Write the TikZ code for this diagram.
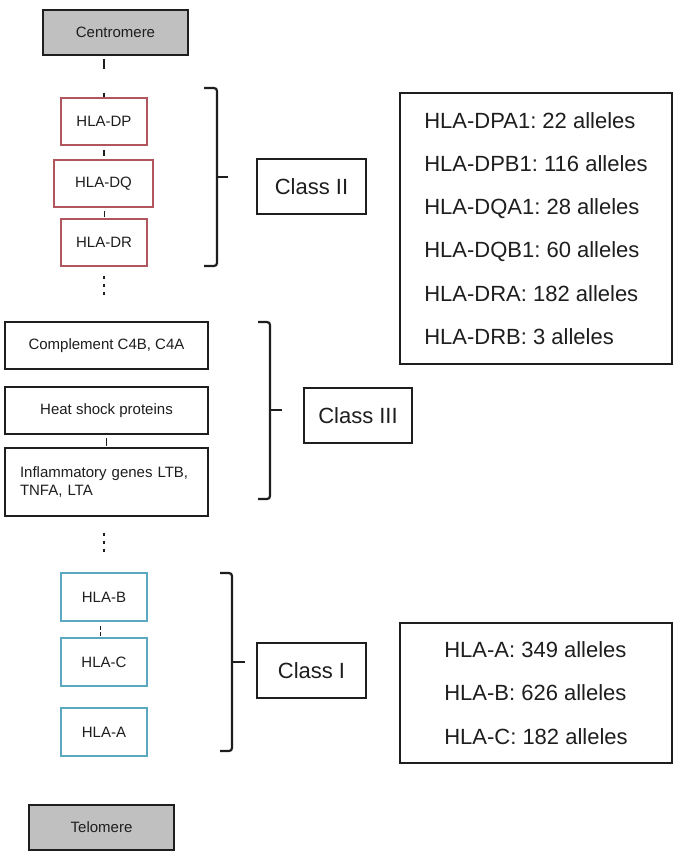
\documentclass[tikz,border=0pt]{standalone}
\usepackage{fontspec}
\setmainfont{Liberation Sans}
\frenchspacing
\definecolor{redbox}{HTML}{B0565C}
\definecolor{tealbox}{HTML}{5BA8C2}
\definecolor{graybox}{HTML}{C0C0C0}
\definecolor{ink}{HTML}{1E1E1E}
\begin{document}
\begin{tikzpicture}[x=1pt,y=-1pt,
  base/.style={draw=ink, inner sep=0pt, text=ink, line width=1.3pt, font=\fontsize{15}{18}\selectfont, align=center},
  endbox/.style={base, fill=graybox, minimum width=145pt, minimum height=45pt},
  redgene/.style={base, draw=redbox, line width=1.8pt, minimum height=47pt},
  tealgene/.style={base, draw=tealbox, line width=1.8pt, minimum width=86pt, minimum height=48pt},
  c3gene/.style={base, line width=1.6pt, minimum width=203pt, minimum height=47pt},
  classbox/.style={base, font=\fontsize{22}{26}\selectfont, minimum width=109pt, minimum height=55pt},
  allelebox/.style={base, font=\fontsize{22}{43.2}\selectfont, align=left, minimum width=272pt},
  link/.style={draw=ink, line width=1.2pt},
  dots/.style={draw=ink, line width=2.6pt, dash pattern=on 3pt off 5pt},
  bracket/.style={draw=ink, line width=2.2pt, rounded corners=3pt}
]
\useasboundingbox (0,0) rectangle (684,862);
\fill[white] (0,0) rectangle (684,862);

% chromosome column
\node[endbox] (cen) at (115.5,32.5) {Centromere};
\node[redgene, minimum width=86pt] (dp) at (104,121.5) {HLA-DP};
\node[redgene, minimum width=99pt] (dq) at (103.5,183.5) {HLA-DQ};
\node[redgene, minimum width=86pt] (dr) at (104,242.5) {HLA-DR};
\coordinate (gap2) at (104,296);

\node[c3gene] (comp) at (106.5,345.5) {Complement C4B, C4A};
\node[c3gene] (heat) at (106.5,410.5) {Heat shock proteins};
\node[c3gene, minimum height=68pt, text width=173pt, align=left, inner xsep=15pt] (infl) at (106.5,482)
  {\fontsize{15}{19.5}\selectfont Inflammatory genes LTB,\\TNFA, LTA};
\coordinate (gap3) at (104,554);

\node[tealgene] (hlab) at (104,597) {HLA-B};
\node[tealgene] (hlac) at (104,662) {HLA-C};
\node[tealgene] (hlaa) at (104,732) {HLA-A};
\node[endbox] (tel) at (101.5,827.5) {Telomere};

% connectors
\draw[link, dash pattern=on 0pt off 3pt on 10pt off 24pt on 10pt] (cen.south -| dp.north) -- (dp.north);
\draw[link, line width=2pt, dash pattern=on 0pt off 4pt on 6pt off 20pt] (dp.south) -- (dp.south |- dq.north);
\draw[link, line width=1pt, dash pattern=on 0pt off 3pt on 6pt off 20pt] (dq.south -| dr.north) -- (dr.north);
\draw[dots] ([yshift=-9pt]dr.south) -- (gap2);
\draw[link, line width=1pt, dash pattern=on 0pt off 3pt on 8pt off 20pt] (heat.south) -- (infl.north);
\draw[dots] ([yshift=-16pt]infl.south -| gap3) -- (gap3);
\draw[link, line width=1pt, dash pattern=on 0pt off 4pt on 4pt off 2pt on 4pt off 20pt] ([xshift=-4pt]hlab.south) -- ([xshift=-4pt]hlac.north);

% brackets
\coordinate (b2t) at (217,88); \coordinate (b2b) at (217,266); \coordinate (b2m) at (217,177);
\draw[bracket] (204,88) -- (b2t) -- (b2b) -- (204,266);
\draw[bracket] (b2m) -- ++(11,0);
\coordinate (b3t) at (270,322); \coordinate (b3b) at (270,499); \coordinate (b3m) at (270,410);
\draw[bracket] (258,322) -- (b3t) -- (b3b) -- (258,499);
\draw[bracket] (b3m) -- ++(12,0);
\coordinate (b1t) at (232,573); \coordinate (b1b) at (232,751); \coordinate (b1m) at (232,662);
\draw[bracket] (220,573) -- (b1t) -- (b1b) -- (220,751);
\draw[bracket] (b1m) -- ++(13,0);

% class labels
\node[classbox] (c2) at (311.5,186.5) {Class II};
\node[classbox, minimum width=108pt] (c3) at (358,415.5) {Class III};
\node[classbox] (c1) at (311.5,670.5) {Class I};

% allele boxes
\node[allelebox, minimum height=271pt] (a2) at (536,228.5)
  {HLA-DPA1: 22 alleles\\HLA-DPB1: 116 alleles\\HLA-DQA1: 28 alleles\\HLA-DQB1: 60 alleles\\HLA-DRA: 182 alleles\\HLA-DRB: 3 alleles};
\node[allelebox, minimum height=140pt] (a1) at (536,693)
  {HLA-A: 349 alleles\\HLA-B: 626 alleles\\HLA-C: 182 alleles};
\end{tikzpicture}
\end{document}
